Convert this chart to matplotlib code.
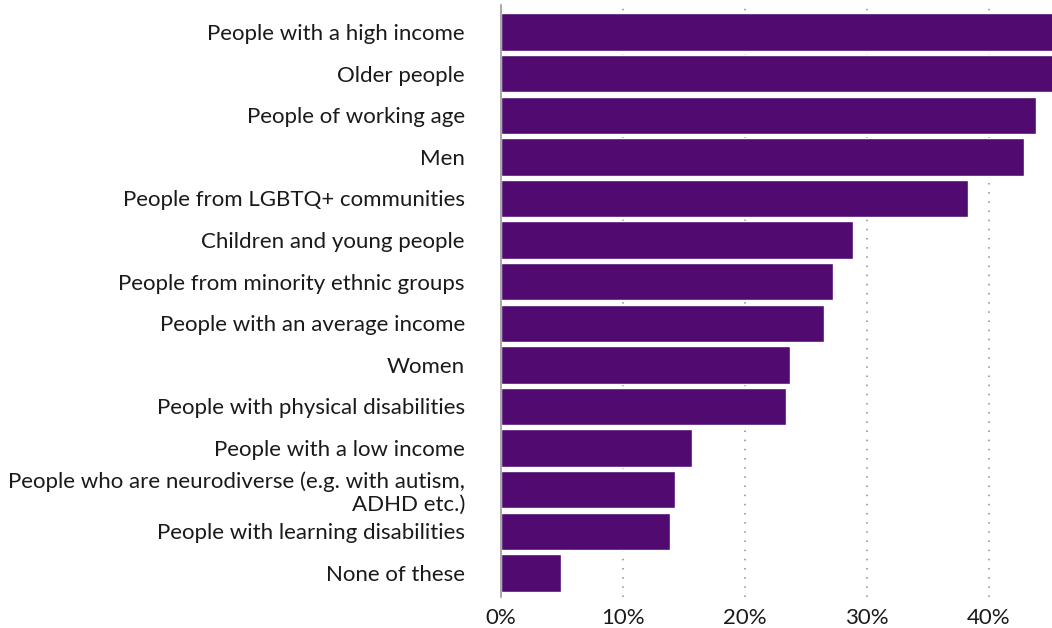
import matplotlib
matplotlib.use("Agg")
import matplotlib.pyplot as plt

# Share of respondents choosing each group
groups = [
    "People with a high income",
    "Older people",
    "People of working age",
    "Men",
    "People from LGBTQ+ communities",
    "Children and young people",
    "People from minority ethnic groups",
    "People with an average income",
    "Women",
    "People with physical disabilities",
    "People with a low income",
    "People who are neurodiverse (e.g. with autism,\nADHD etc.)",
    "People with learning disabilities",
    "None of these",
]
shares = [46.0, 45.6, 43.9, 42.9, 38.3, 28.9, 27.2, 26.5, 23.7, 23.4, 15.7, 14.3, 13.9, 4.9]

x_ticks = [0, 10, 20, 30, 40]
x_tick_labels = ["0%", "10%", "20%", "30%", "40%"]

BAR_COLOUR = "#500a70"
TEXT_COLOUR = "#1a1a1a"

plt.rcParams["font.family"] = ["Lato", "DejaVu Sans"]

fig = plt.figure(figsize=(10.52, 6.28), dpi=100)
ax = fig.add_axes([501 / 1052, 1 - 597 / 628, 1 - 501 / 1052, 592 / 628])

pos = list(range(len(groups)))
ax.barh(pos, shares, height=0.9, color=BAR_COLOUR, edgecolor="white", linewidth=1, zorder=3)

ax.set_xlim(0, 45.2)
ax.set_ylim(len(groups) - 0.42, -0.65)

for t in x_ticks[1:]:
    ax.axvline(t, color="#8a8a8a", linewidth=1.1, linestyle=(0, (1, 5)), zorder=1)

ax.set_xticks(x_ticks)
ax.set_xticklabels(x_tick_labels, fontsize=16, color=TEXT_COLOUR)
ax.set_yticks(pos)
ax.set_yticklabels(groups, fontsize=16, color=TEXT_COLOUR, linespacing=1.15)
ax.tick_params(axis="both", length=0)
ax.tick_params(axis="y", pad=26)
ax.tick_params(axis="x", pad=8)

for side in ["top", "right", "bottom"]:
    ax.spines[side].set_visible(False)
ax.spines["left"].set_color("#9a9a9a")
ax.spines["left"].set_linewidth(1.2)
ax.spines["left"].set_zorder(4)

fig.savefig("out.png", dpi=100)
